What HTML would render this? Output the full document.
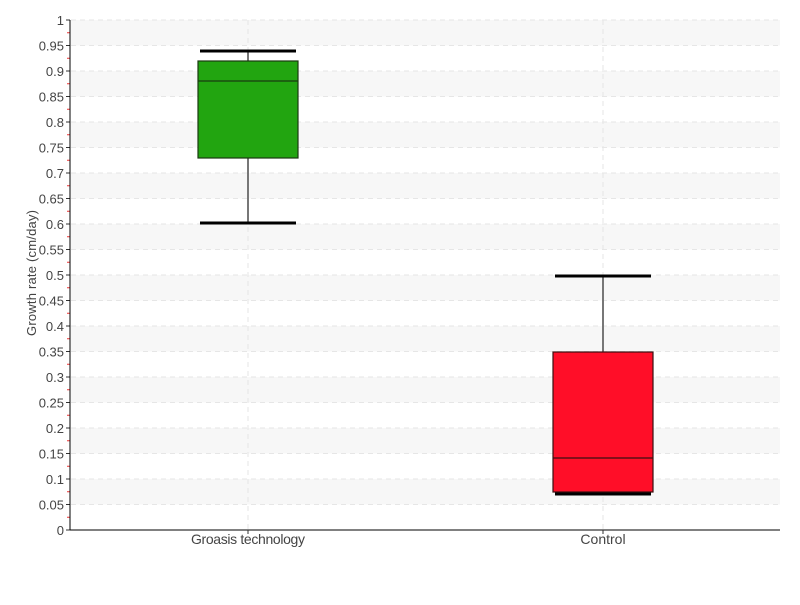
<!DOCTYPE html>
<html><head><style>body{margin:0;background:#fff}</style></head><body>
<svg width="800" height="600" xmlns="http://www.w3.org/2000/svg" font-family="Liberation Sans, sans-serif">
<rect width="800" height="600" fill="#fff"/>
<g fill="#f7f7f7">
<rect x="71" y="479" width="709" height="25.5"/><rect x="71" y="428" width="709" height="25.5"/><rect x="71" y="377" width="709" height="25.5"/><rect x="71" y="326" width="709" height="25.5"/><rect x="71" y="275" width="709" height="25.5"/><rect x="71" y="224" width="709" height="25.5"/><rect x="71" y="173" width="709" height="25.5"/><rect x="71" y="122" width="709" height="25.5"/><rect x="71" y="71" width="709" height="25.5"/><rect x="71" y="20" width="709" height="25.5"/>
</g>
<path stroke="#e6e6e6" stroke-dasharray="5,4" fill="none" d="M71 504.5H780M71 479H780M71 453.5H780M71 428H780M71 402.5H780M71 377H780M71 351.5H780M71 326H780M71 300.5H780M71 275H780M71 249.5H780M71 224H780M71 198.5H780M71 173H780M71 147.5H780M71 122H780M71 96.5H780M71 71H780M71 45.5H780M71 20H780M248 20V530M603 20V530"/>
<path stroke="#333" d="M66 530H70M66 504.5H70M66 479H70M66 453.5H70M66 428H70M66 402.5H70M66 377H70M66 351.5H70M66 326H70M66 300.5H70M66 275H70M66 249.5H70M66 224H70M66 198.5H70M66 173H70M66 147.5H70M66 122H70M66 96.5H70M66 71H70M66 45.5H70M66 20H70"/>
<path stroke="#e33" d="M67 517.25H70M67 491.75H70M67 466.25H70M67 440.75H70M67 415.25H70M67 389.75H70M67 364.25H70M67 338.75H70M67 313.25H70M67 287.75H70M67 262.25H70M67 236.75H70M67 211.25H70M67 185.75H70M67 160.25H70M67 134.75H70M67 109.25H70M67 83.75H70M67 58.25H70M67 32.75H70"/>
<g font-size="13" fill="#444" text-anchor="end">
<text x="64" y="535">0</text><text x="64" y="509.5">0.05</text><text x="64" y="484">0.1</text><text x="64" y="458.5">0.15</text><text x="64" y="433">0.2</text><text x="64" y="407.5">0.25</text><text x="64" y="382">0.3</text><text x="64" y="356.5">0.35</text><text x="64" y="331">0.4</text><text x="64" y="305.5">0.45</text><text x="64" y="280">0.5</text><text x="64" y="254.5">0.55</text><text x="64" y="229">0.6</text><text x="64" y="203.5">0.65</text><text x="64" y="178">0.7</text><text x="64" y="152.5">0.75</text><text x="64" y="127">0.8</text><text x="64" y="101.5">0.85</text><text x="64" y="76">0.9</text><text x="64" y="50.5">0.95</text><text x="64" y="25">1</text>
</g>
<line x1="70" x2="70" y1="20" y2="530" stroke="#000"/>
<line x1="70" x2="780" y1="530" y2="530" stroke="#000"/>
<line x1="248" x2="248" y1="530" y2="534" stroke="#333"/>
<line x1="603" x2="603" y1="530" y2="534" stroke="#333"/>
<line x1="248" x2="248" y1="51" y2="224" stroke="#777" stroke-width="2"/>
<rect x="198" y="61" width="100" height="97" fill="#22a510" stroke="#1a3a10" stroke-width="1.2"/>
<line x1="198" x2="298" y1="81" y2="81" stroke="#1a3a10" stroke-width="1.2"/>
<line x1="200" x2="296" y1="51" y2="51" stroke="#000" stroke-width="3"/>
<line x1="200" x2="296" y1="223" y2="223" stroke="#000" stroke-width="3"/>
<line x1="603" x2="603" y1="276" y2="494" stroke="#777" stroke-width="2"/>
<rect x="553" y="352" width="100" height="140" fill="#ff0e28" stroke="#3a1010" stroke-width="1.2"/>
<line x1="553" x2="653" y1="458" y2="458" stroke="#3a1010" stroke-width="1.2"/>
<line x1="555" x2="651" y1="276" y2="276" stroke="#000" stroke-width="3"/>
<line x1="555" x2="651" y1="494" y2="494" stroke="#000" stroke-width="3"/>
<text x="248" y="544" text-anchor="middle" font-size="14" fill="#444" textLength="114">Groasis technology</text>
<text x="603" y="544" text-anchor="middle" font-size="14" fill="#444">Control</text>
<text transform="translate(36,273) rotate(-90)" text-anchor="middle" font-size="13" fill="#444" textLength="126">Growth rate (cm/day)</text>
</svg>
</body></html>
